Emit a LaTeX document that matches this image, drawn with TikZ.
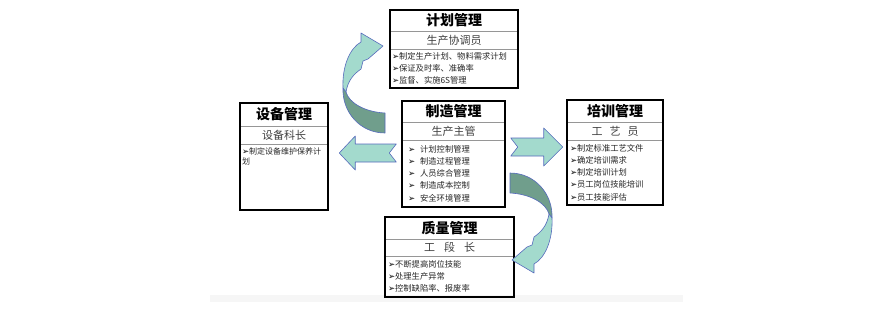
\documentclass[tikz,border=0pt]{standalone}
\usepackage{fontspec}
\setmainfont{Noto Sans CJK SC}
\newfontfamily\symfont{DejaVu Sans}
\usepackage{xcolor}
\usepackage{tikz}
\usetikzlibrary{positioning,fit,calc}
\definecolor{arrfill}{RGB}{163,218,205}
\definecolor{arrdark}{RGB}{112,158,140}
\definecolor{arrline}{RGB}{86,106,188}
\definecolor{rolesep}{RGB}{150,150,150}
\definecolor{floorclr}{RGB}{246,246,246}
\tikzset{
  boxhead/.style={inner sep=0pt, outer sep=0pt,
                  font=\bfseries\fontsize{14}{16}\selectfont},
  boxrole/.style={draw=rolesep, line width=0.8pt, inner sep=0pt, outer sep=0pt,
                  minimum height=18pt, text=black!75,
                  font=\fontsize{11}{13}\selectfont},
  boxduty/.style={inner xsep=3pt, inner ysep=3pt, outer sep=0pt, align=left,
                  text=black!85, font=\fontsize{8.3}{12.3}\selectfont},
  boxframe/.style={draw=black, line width=1.5pt, inner sep=0pt},
}
\newcommand{\mk}{{\symfont\color{black}\fontsize{8.5}{8}\selectfont ➢}}
\newcommand{\twistarrow}{%
  \draw[blockdark] (-104.5,-65) .. controls (-105.5,-41) and (-87.5,-20) .. (-62.5,-20)
    -- (-62.5,-40) .. controls (-82.5,-41) and (-98.5,-50) .. (-101.5,-61) -- cycle;
  \draw[blockarr] (-104.5,-65) .. controls (-105.5,-87) and (-97.5,-105) .. (-86.5,-111)
    -- (-86.5,-120) -- (-64.5,-107) -- (-79.5,-94) -- (-84.5,-92) -- (-86.5,-84)
    .. controls (-93.5,-79) and (-99.5,-73) .. (-101.5,-61) -- cycle;
}

\begin{document}
\begin{tikzpicture}[x=1pt, y=-1pt,
    blockarr/.style={fill=arrfill, draw=arrline, line width=0.6pt, line join=round},
    blockdark/.style={blockarr, fill=arrdark},
  ]
\useasboundingbox (0,0) rectangle (893,308);
\fill[floorclr] (210,295) rectangle (683,302);

% plan box
\node[boxhead, minimum width=128, minimum height=21, anchor=north west] (plan) at (390,10) {计划管理};
\node[boxrole, minimum width=128, below=0pt of plan] (planrole) {生产协调员};
\node[boxduty, text width=124, inner xsep=2pt, minimum height=39, below=0pt of planrole] (planduty)
  {\mk 制定生产计划、物料需求计划\\ \mk 保证及时率、准确率\\ \mk 监督、实施6S管理};
\node[boxframe, fit=(plan)(planduty)] (planbox) {};

% equipment box
\node[boxhead, minimum width=88, minimum height=23, anchor=north west] (equip) at (240,103) {设备管理};
\node[boxrole, minimum width=88, below=0pt of equip] (equiprole) {设备科长};
\node[boxduty, text width=84, inner xsep=2pt, text depth=52pt, minimum height=66, below=0pt of equiprole,
      font=\fontsize{8}{10}\selectfont] (equipduty)
  {\mk 制定设备维护保养计\\划};
\node[boxframe, fit=(equip)(equipduty)] (equipbox) {};

% manufacturing box
\node[boxhead, minimum width=103, minimum height=21, anchor=north west] (mfg) at (402,101) {制造管理};
\node[boxrole, minimum width=103, below=0pt of mfg] (mfgrole) {生产主管};
\node[boxduty, inner xsep=6pt, text width=91, minimum height=67, below=0pt of mfgrole] (mfgduty)
  {\mk\hspace{5pt}计划控制管理\\ \mk\hspace{5pt}制造过程管理\\ \mk\hspace{5pt}人员综合管理\\
   \mk\hspace{5pt}制造成本控制\\ \mk\hspace{5pt}安全环境管理};
\node[boxframe, fit=(mfg)(mfgduty)] (mfgbox) {};

% training box
\node[boxhead, minimum width=96, minimum height=22, anchor=north west] (train) at (567,100) {培训管理};
\node[boxrole, minimum width=96, below=0pt of train] (trainrole) {工\hspace{7pt}艺\hspace{7pt}员};
\node[boxduty, text width=90, minimum height=65, below=0pt of trainrole] (trainduty)
  {\mk 制定标准工艺文件\\ \mk 确定培训需求\\ \mk 制定培训计划\\ \mk 员工岗位技能培训\\ \mk 员工技能评估};
\node[boxframe, fit=(train)(trainduty)] (trainbox) {};

% quality box
\node[boxhead, minimum width=129, minimum height=22, anchor=north west] (qual) at (385,217) {质量管理};
\node[boxrole, minimum width=129, minimum height=17, below=0pt of qual] (qualrole) {工\hspace{9pt}段\hspace{9pt}长};
\node[boxduty, text width=123, minimum height=41, below=0pt of qualrole,
      font=\fontsize{8.3}{12}\selectfont] (qualduty)
  {\mk 不断提高岗位技能\\ \mk 处理生产异常\\ \mk 控制缺陷率、报废率};
\node[boxframe, fit=(qual)(qualduty)] (qualbox) {};

% block arrows out of the manufacturing box
\draw[blockarr] ($(mfgbox.west)+(-5,-10)$) -- ++(-41,0) -- ++(0,-8) -- ++(-16,17)
  -- ++(16,17) -- ++(0,-8) -- ++(41,0) -- ++(-7,-9) -- cycle;
\draw[blockarr] ($(mfgbox.east)+(5,-16)$) -- ++(33,0) -- ++(0,-10) -- ++(19,19)
  -- ++(-19,19) -- ++(0,-10) -- ++(-33,0) -- ++(7,-9) -- cycle;
\begin{scope}[shift={($(mfgbox.center)+(-6,-1)$)}]
  \twistarrow
\end{scope}
\begin{scope}[shift={($(mfgbox.center)+(-6,-1)$)}, rotate=180]
  \twistarrow
\end{scope}
\end{tikzpicture}
\end{document}
